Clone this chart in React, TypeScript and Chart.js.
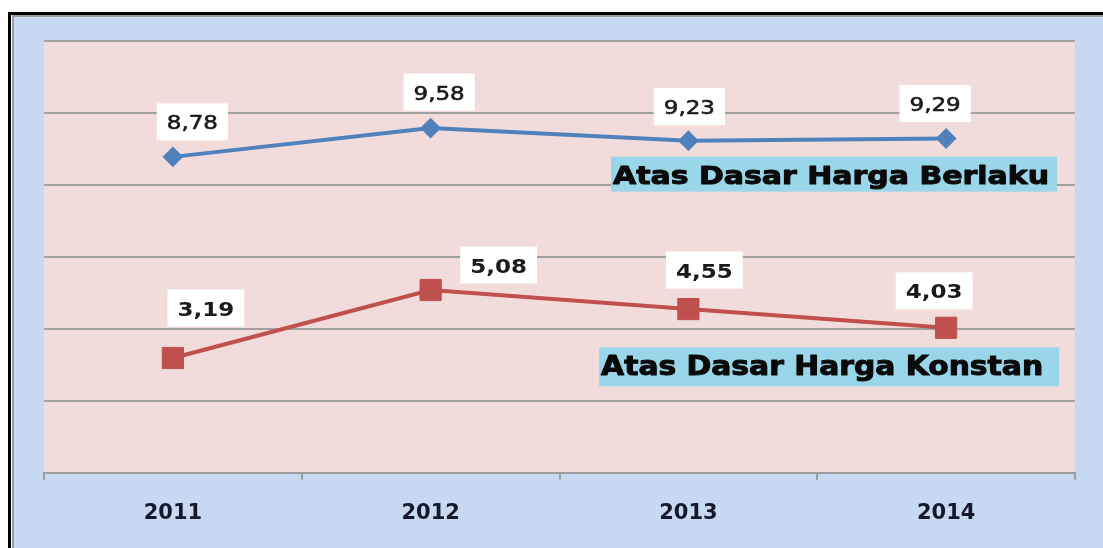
import React, { useEffect, useRef } from "react";
import { Chart, registerables } from "chart.js";

Chart.register(...registerables);

// ---- data ----
const categories = ["2011", "2012", "2013", "2014"];
const berlakuValues = [8.78, 9.58, 9.23, 9.29];
const konstanValues = [3.19, 5.08, 4.55, 4.03];
const seriesNames = ["Atas Dasar Harga Berlaku", "Atas Dasar Harga Konstan"];
const yMin = 0;
const yMax = 12;
const yStep = 2;

// label offsets (px) relative to each point
const berlakuLabelOffsets = [[19.5, -35], [8.5, -36], [1, -34], [-11, -35]];
const konstanLabelOffsets = [[33, -50], [68, -25], [16, -39], [-12, -37]];

const fmt = (v: number) => v.toFixed(2).replace(".", ",");

const FONT = '"DejaVu Sans", Verdana, sans-serif';

function drawScaledText(ctx: CanvasRenderingContext2D, text: string, cx: number, baseY: number, font: string, targetW: number | null, sx0 = 1, stroke = 0) {
  ctx.save();
  ctx.font = font;
  const w = ctx.measureText(text).width;
  const sx = targetW ? targetW / w : sx0;
  ctx.textAlign = "center";
  ctx.textBaseline = "alphabetic";
  ctx.translate(cx, baseY);
  ctx.scale(sx, 1);
  ctx.fillText(text, 0, 0);
  if (stroke > 0) {
    ctx.strokeStyle = ctx.fillStyle as string;
    ctx.lineWidth = stroke;
    ctx.lineJoin = "round";
    ctx.strokeText(text, 0, 0);
  }
  ctx.restore();
  return w * sx;
}

const bgPlugin = {
  id: "bgFrame",
  beforeDraw(chart: any) {
    const { ctx, width, height, chartArea: a } = chart;
    ctx.save();
    ctx.fillStyle = "#ffffff";
    ctx.fillRect(0, 0, width, height);
    ctx.fillStyle = "#000000";
    ctx.fillRect(8, 12, width - 8, height - 12);
    ctx.fillStyle = "#ffffff";
    ctx.fillRect(11, 15, width - 11, height - 15);
    ctx.fillStyle = "#9c9c9c";
    ctx.fillRect(12, 15, width - 12, height - 15);
    ctx.fillStyle = "#C6D9F1";
    ctx.fillRect(14, 17, width - 14, height - 17);
    ctx.fillStyle = "#F2DCDB";
    ctx.fillRect(a.left, a.top, a.right - a.left, a.bottom - a.top);
    ctx.restore();
  },
};

const annotations = [
  { text: seriesNames[0], xIndex: 2.565, yValue: 8.3, boxW: 446, boxH: 35, textDx: -3, baseDy: 9.5, textW: 436, fontSize: 25 },
  { text: seriesNames[1], xIndex: 2.546, yValue: 2.944, boxW: 460, boxH: 39, textDx: -7, baseDy: 8.5, textW: 442, fontSize: 26 },
];

const labelsPlugin = {
  id: "valueLabels",
  afterDatasetsDraw(chart: any) {
    const { ctx } = chart;
    const xs = chart.scales.x;
    const ys = chart.scales.y;
    const sets = [
      { values: berlakuValues, offs: berlakuLabelOffsets, bold: false },
      { values: konstanValues, offs: konstanLabelOffsets, bold: true },
    ];
    sets.forEach((s, di) => {
      const meta = chart.getDatasetMeta(di);
      s.values.forEach((v, j) => {
        const pt = meta.data[j];
        const cx = pt.x + s.offs[j][0];
        const cy = pt.y + s.offs[j][1];
        const font = `${s.bold ? "bold " : ""}20px ${FONT}`;
        ctx.save();
        ctx.font = font;
        const tw = ctx.measureText(fmt(v)).width * 1.15;
        const bw = tw + 20;
        const bh = 37;
        ctx.fillStyle = "#ffffff";
        ctx.fillRect(cx - bw / 2, cy - bh / 2, bw, bh);
        ctx.restore();
        ctx.save();
        ctx.fillStyle = "#1a1a1a";
        drawScaledText(ctx, fmt(v), cx, cy + 7.5, font, null, 1.15, s.bold ? 0 : 0.6);
        ctx.restore();
      });
    });
    annotations.forEach((an) => {
      const cx = xs.getPixelForValue(an.xIndex);
      const cy = ys.getPixelForValue(an.yValue);
      ctx.save();
      ctx.fillStyle = "#99D6E9";
      ctx.fillRect(cx - an.boxW / 2, cy - an.boxH / 2, an.boxW, an.boxH);
      ctx.fillStyle = "#0a0a0a";
      drawScaledText(ctx, an.text, cx + an.textDx, cy + an.baseDy, `bold ${an.fontSize}px ${FONT}`, an.textW, 1, 1);
      ctx.restore();
    });
  },
};

export default function App() {
  const ref = useRef<HTMLCanvasElement | null>(null);
  useEffect(() => {
    if (!ref.current) return;
    const chart = new Chart(ref.current, {
      type: "line",
      data: {
        labels: categories,
        datasets: [
          {
            label: seriesNames[0],
            data: berlakuValues,
            borderColor: "#4F81BD",
            backgroundColor: "#4F81BD",
            borderWidth: 4,
            pointStyle: "rectRot",
            pointRadius: 9,
            pointBorderWidth: 2,
            pointBackgroundColor: "#4F81BD",
            pointBorderColor: "#4F81BD",
            tension: 0,
            clip: false as any,
          },
          {
            label: seriesNames[1],
            data: konstanValues,
            borderColor: "#C0504D",
            backgroundColor: "#C0504D",
            borderWidth: 4,
            pointStyle: "rect",
            pointRadius: 15,
            pointBorderWidth: 1,
            pointBackgroundColor: "#C0504D",
            pointBorderColor: "#C0504D",
            tension: 0,
            clip: false as any,
          },
        ],
      },
      options: {
        responsive: false,
        animation: false,
        devicePixelRatio: 1,
        layout: { autoPadding: false, padding: { left: 44, right: 28, top: 41, bottom: 1 } },
        plugins: { legend: { display: false }, tooltip: { enabled: false }, title: { display: false } },
        scales: {
          x: {
            type: "category",
            offset: true,
            grid: { offset: true, drawOnChartArea: false, drawTicks: true, tickLength: 7, color: "#9c9c9c", lineWidth: 2 },
            border: { display: true, color: "#9c9c9c", width: 2 },
            ticks: { color: "#141a2a", padding: 21, font: { family: FONT, size: 21, weight: "bold" } },
          },
          y: {
            min: yMin,
            max: yMax,
            ticks: { display: false, stepSize: yStep },
            grid: { color: "#a0a0a0", lineWidth: 2, drawTicks: false },
            border: { display: false },
          },
        },
      },
      plugins: [bgPlugin, labelsPlugin],
    });
    return () => chart.destroy();
  }, []);
  return (
    <div style={{ position: "absolute", left: 0, top: 0, width: 1103, height: 548 }}>
      <canvas ref={ref} width={1103} height={548} style={{ display: "block", width: 1103, height: 548 }} />
    </div>
  );
}
